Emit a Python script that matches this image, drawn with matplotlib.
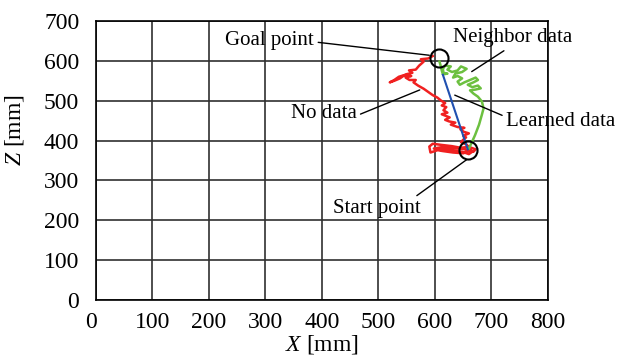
import matplotlib
matplotlib.use("Agg")
import matplotlib.pyplot as plt
from matplotlib.transforms import ScaledTranslation

plt.rcParams['font.family'] = ['Liberation Serif', 'DejaVu Serif']
plt.rcParams['mathtext.fontset'] = 'custom'
plt.rcParams['mathtext.rm'] = 'Liberation Serif'
plt.rcParams['mathtext.it'] = 'Liberation Serif:italic'

# Axis ticks
x_ticks = [0, 100, 200, 300, 400, 500, 600, 700, 800]
z_ticks = [0, 100, 200, 300, 400, 500, 600, 700]

# Start and goal positions [mm]
start_point = (659, 376)
goal_point = (607, 606)

# Trajectory without data (red)
no_data_x = [659, 668, 672, 660, 645, 630, 612, 596, 590, 592, 605, 620, 634, 648, 660,
             666, 650, 628, 610, 598, 612, 632, 650, 664, 656, 646, 650, 655,
             650, 660, 651, 645, 652, 640, 628, 636, 625, 618, 626, 619, 612, 622, 615,
             620, 612, 618, 611, 604, 596, 588, 580, 570, 562, 566, 555, 548, 558, 545,
             536, 528, 520, 528, 538, 548, 560, 554, 566, 572, 580, 575, 588, 596]
no_data_z = [376, 372, 378, 384, 382, 386, 389, 392, 385, 370, 376, 378, 374, 372, 366,
             372, 379, 381, 383, 380, 374, 370, 368, 376, 390, 396, 402, 408,
             412, 418, 422, 428, 432, 434, 440, 445, 448, 452, 458, 462, 466, 470, 476,
             484, 488, 494, 500, 508, 514, 522, 530, 538, 546, 552, 552, 558, 562, 564,
             560, 552, 546, 550, 556, 566, 570, 576, 578, 588, 598, 604, 606, 612]

# Trajectory using neighbor data (green)
neighbor_x = [660, 665, 671, 678, 683, 686, 683, 676, 668, 662, 672, 681, 676, 666, 658,
              668, 676, 672, 662, 652, 644, 640, 648, 640, 632, 636, 648, 656, 646, 640,
              630, 622, 628, 618, 614, 615, 622, 614, 612, 610, 608]
neighbor_z = [380, 395, 414, 440, 465, 481, 498, 510, 518, 526, 528, 531, 538, 534, 540,
              546, 552, 558, 552, 546, 540, 548, 556, 562, 558, 568, 572, 580, 586, 576,
              572, 578, 586, 588, 580, 570, 568, 566, 576, 588, 598]

# Trajectory using learned data (blue)
learned_x = [658, 614]
learned_z = [378, 565]

fig = plt.figure(figsize=(6.27, 3.6), dpi=100)
ax = fig.add_axes([0.153, 0.1667, 0.721, 0.775])

ax.plot(no_data_x, no_data_z, color='#f02020', lw=1.8, zorder=3)
ax.plot(neighbor_x, neighbor_z, color='#6cc040', lw=1.8, zorder=3)
ax.plot(learned_x, learned_z, color='#2050b0', lw=1.5, zorder=4)

for pt in (start_point, goal_point):
    ax.plot([pt[0]], [pt[1]], marker='o', ms=13, mfc='none', mec='black',
            mew=1.5, zorder=5)

ax.set_xlim(0, 800)
ax.set_ylim(0, 700)
ax.set_xticks(x_ticks)
ax.set_yticks(z_ticks)
ax.grid(True, color='#303030', lw=1.2)
ax.set_axisbelow(True)
for s in ax.spines.values():
    s.set_color('black')
    s.set_linewidth(1.2)
ax.tick_params(length=0, labelsize=17, pad=12)
ax.tick_params(axis='x', pad=9)

# nudge the x-axis origin label left
lbl0 = ax.get_xticklabels()[0]
lbl0.set_transform(lbl0.get_transform() + ScaledTranslation(-0.05, 0, fig.dpi_scale_trans))

ax.set_xlabel('$X$ [mm]', fontsize=17, labelpad=0)
ax.set_ylabel('$Z$ [mm]', fontsize=17)
ax.yaxis.set_label_coords(-0.155, 0.61)

ann = dict(fontsize=15, annotation_clip=False, zorder=6)
line = dict(arrowstyle='-', color='black', lw=1.0, shrinkA=1, shrinkB=0)

ax.annotate('Goal point', xy=(590, 614), xytext=(386, 650), ha='right', va='center',
            arrowprops=dict(relpos=(1, 0.45), **line), **ann)
ax.annotate('Neighbor data', xy=(665, 573), xytext=(738, 658), ha='center', va='center',
            arrowprops=dict(relpos=(0.47, 0.0), **line), **ann)
ax.annotate('No data', xy=(573, 527), xytext=(461, 467), ha='right', va='center',
            arrowprops=dict(relpos=(1, 0.4), **line), **ann)
ax.annotate('Learned data', xy=(635, 514), xytext=(726, 447), ha='left', va='center',
            arrowprops=dict(relpos=(0, 0.75), **line), **ann)
ax.annotate('Start point', xy=(656, 352), xytext=(497, 229), ha='center', va='center',
            arrowprops=dict(relpos=(0.9, 1.0), **line), **ann)

fig.savefig('out.png', dpi=100)
